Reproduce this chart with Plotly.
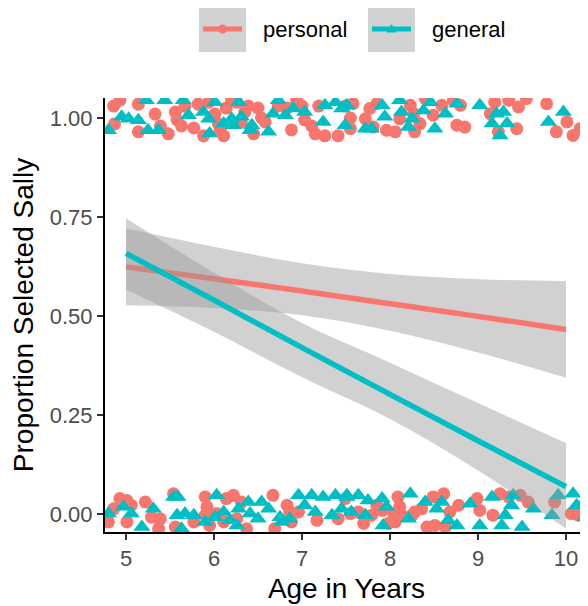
import plotly.graph_objects as go

# ---------------- data ----------------
# jittered responses (1 = selected Sally), personal condition
personal_age = [
    4.86, 4.93, 4.87, 5.14, 5.14, 5.33, 5.39, 5.48, 5.56, 5.58, 5.63, 5.67, 5.77, 5.82, 5.88, 5.94,
    6.01, 6.05, 6.07, 6.11, 6.14, 6.20, 6.26, 6.31, 6.35, 6.39, 6.45, 6.50, 6.54, 6.58, 6.73, 6.83,
    6.88, 6.94, 7.00, 7.03, 7.11, 7.15, 7.19, 7.26, 7.41, 7.49,
    7.58, 7.55, 7.55, 7.72, 7.77, 7.85, 7.81, 7.96, 8.06, 8.11, 8.23, 8.27, 8.28, 8.34, 8.40, 8.49,
    8.59, 8.72, 8.80, 8.76, 8.85, 9.14, 9.19, 9.23, 9.35, 9.44, 9.46, 9.55, 9.78, 9.89, 10.01, 10.08,
    10.16, 10.24,
    4.80, 4.86, 4.93, 5.01, 5.01, 5.06, 5.22, 5.29, 5.39, 5.37, 5.54, 5.56, 5.77, 5.90, 5.92, 5.90,
    5.95, 6.03, 6.11, 6.14, 6.22, 6.26, 6.31, 6.37, 6.67, 6.69, 6.83, 6.86, 6.88, 6.96, 7.17, 7.41,
    7.49,
    7.55, 7.64, 7.70, 7.79, 7.85, 7.91, 7.98, 8.04, 8.06, 8.09, 8.11, 8.13, 8.25, 8.28, 8.36, 8.42,
    8.49, 8.51, 8.61, 8.63, 8.68, 8.78, 8.99, 9.02, 9.17, 9.25, 9.35, 9.48, 9.57, 9.87, 10.06, 10.14,
    10.20,
]
personal_resp = [
    1.030, 1.045, 0.985, 1.035, 0.965, 1.010, 0.980, 0.960, 1.015, 0.995, 0.980, 1.030, 0.975, 1.035, 0.955, 1.040,
    1.010, 0.985, 0.970, 0.955, 1.025, 1.045, 1.040, 0.990, 1.015, 1.030, 0.960, 1.025, 1.000, 0.990, 1.030, 1.025,
    0.970, 1.045, 1.030, 0.995, 0.980, 0.960, 1.030, 0.955, 0.955, 1.030,
    1.036, 1.000, 0.973, 0.998, 1.024, 1.036, 0.977, 0.969, 0.965, 0.998, 1.032, 1.011, 0.965, 0.986, 1.049, 1.007,
    1.032, 1.045, 1.032, 0.982, 0.977, 1.011, 1.040, 0.965, 1.045, 0.973, 1.028, 1.049, 1.036, 0.965, 0.990, 0.956,
    0.973, 0.973,
    -0.020, 0.013, 0.039, 0.034, -0.020, 0.022, 0.030, -0.008, -0.012, -0.037, 0.051, -0.033, -0.020, 0.043, 0.018, -0.003,
    -0.029, 0.001, -0.020, 0.039, 0.047, -0.012, 0.030, -0.037, 0.047, -0.037, 0.022, 0.005, -0.020, 0.005, -0.016, -0.012,
    0.039,
    0.001, 0.005, -0.024, -0.003, 0.022, 0.009, -0.024, 0.001, -0.020, 0.043, 0.018, -0.003, -0.003, 0.005, 0.013, -0.033,
    0.043, -0.029, 0.051, -0.033, 0.005, 0.022, 0.039, 0.009, -0.003, 0.051, 0.043, 0.047, 0.030, 0.030, 0.001, -0.003,
    0.022,
]

# jittered responses, general condition
general_age = [
    4.80, 4.95, 5.03, 5.14, 5.23, 5.25, 5.37, 5.44, 5.65, 5.71, 5.88, 5.94, 5.95, 6.01, 6.11, 6.20,
    6.22, 6.28, 6.31, 6.41, 6.43, 6.62, 6.67, 6.73, 6.81, 6.90, 7.03, 7.24, 7.26, 7.38, 7.45, 7.49,
    7.51, 7.72, 7.79, 7.91, 7.94, 8.11, 8.13, 8.21, 8.25, 8.38, 8.46, 8.51, 8.63, 8.76, 9.02, 9.16,
    9.21, 9.29, 9.33, 9.25, 9.80, 9.97,
    4.80, 4.97, 5.06, 5.18, 5.31, 5.54, 5.59, 5.58, 5.67, 5.77, 5.63, 5.90, 6.01, 6.03, 6.11, 6.18,
    6.26, 6.28, 6.39, 6.41, 6.50, 6.54, 6.62, 6.75, 6.77, 6.86, 6.96, 7.03, 7.11, 7.15, 7.24, 7.34,
    7.38, 7.45, 7.51,
    7.51, 7.56, 7.64, 7.72, 7.75, 7.91, 7.96, 7.92, 8.23, 8.21, 8.40, 8.53, 8.59, 8.66, 8.76, 8.91,
    9.02, 9.16, 9.27, 9.31, 9.38, 9.40, 9.50, 9.63, 9.84, 9.91, 10.08, 10.12, 10.22,
]
general_resp = [
    0.969, 1.003, 0.998, 0.994, 1.045, 0.969, 0.969, 1.045, 1.045, 1.007, 1.015, 0.998, 0.961, 1.040, 0.986, 0.998,
    0.982, 1.040, 1.003, 0.969, 0.982, 0.965, 1.011, 1.045, 1.007, 1.024, 1.015, 0.990, 1.032, 1.040, 1.024, 0.982,
    1.032, 0.973, 0.973, 1.032, 1.003, 1.045, 1.015, 0.977, 0.998, 1.019, 1.040, 0.973, 1.011, 1.036, 1.032, 0.986,
    1.011, 1.015, 0.986, 0.956, 0.990, 1.015,
    0.001, 0.018, 0.001, -0.033, 0.013, 0.043, 0.043, -0.003, 0.001, -0.003, -0.037, -0.020, -0.008, 0.047, 0.005, -0.016,
    -0.029, 0.013, 0.030, 0.001, -0.012, 0.030, 0.013, -0.008, -0.020, -0.012, 0.047, 0.022, 0.047, 0.005, 0.043, -0.003,
    0.047, 0.013, 0.043,
    0.047, 0.005, 0.047, -0.003, 0.034, 0.039, 0.018, -0.029, 0.051, -0.012, 0.030, 0.013, 0.030, -0.016, -0.029, 0.026,
    -0.029, 0.043, -0.029, -0.003, 0.022, 0.047, -0.033, 0.013, -0.003, 0.047, 0.051, 0.022, -0.008,
]

# fitted curves with confidence bands
fit_age = [5, 6, 7, 8, 9, 10]
personal_fit = [0.624, 0.594, 0.563, 0.531, 0.499, 0.466]
personal_upper = [0.721, 0.675, 0.633, 0.606, 0.593, 0.588]
personal_lower = [0.527, 0.520, 0.502, 0.463, 0.408, 0.344]
general_fit = [0.658, 0.540, 0.420, 0.302, 0.185, 0.069]
general_upper = [0.747, 0.609, 0.482, 0.382, 0.280, 0.179]
general_lower = [0.567, 0.460, 0.345, 0.240, 0.110, -0.037]

y_ticks = [0, 0.25, 0.5, 0.75, 1.0]
y_tick_labels = ["0.00", "0.25", "0.50", "0.75", "1.00"]
x_ticks = [5, 6, 7, 8, 9, 10]

series_names = ["personal", "general"]

# ---------------- style ----------------
RED = "#F8766D"
TEAL = "#00BFC4"
BAND = "rgba(153,153,153,0.45)"
FONT = "Liberation Sans, Arial, sans-serif"

# the page body has an 8px margin, so the figure is 8px smaller and shifted
OFF = 8
W, H = 588 - OFF, 606 - OFF
ML, MR, MT, MB = 105 - OFF, 0, 98 - OFF, 74

fig = go.Figure()

fig.add_trace(go.Scatter(x=personal_age, y=personal_resp, mode="markers",
                         marker=dict(symbol="circle", size=13, color=RED, line=dict(width=0)),
                         showlegend=False, hoverinfo="skip"))
fig.add_trace(go.Scatter(x=general_age, y=general_resp, mode="markers",
                         marker=dict(symbol="triangle-up", size=15, color=TEAL, line=dict(width=0)),
                         showlegend=False, hoverinfo="skip"))

for fit, up, lo, col in [(personal_fit, personal_upper, personal_lower, RED),
                         (general_fit, general_upper, general_lower, TEAL)]:
    fig.add_trace(go.Scatter(x=fit_age, y=up, mode="lines", line=dict(width=0, shape="spline"),
                             showlegend=False, hoverinfo="skip"))
    fig.add_trace(go.Scatter(x=fit_age, y=lo, mode="lines", line=dict(width=0, shape="spline"),
                             fill="tonexty", fillcolor=BAND, showlegend=False, hoverinfo="skip"))
    fig.add_trace(go.Scatter(x=fit_age, y=fit, mode="lines", line=dict(width=5.5, color=col, shape="spline"),
                             showlegend=False, hoverinfo="skip"))

# ---------------- custom legend (ggplot-style keys) ----------------
pw, ph = W - ML - MR, H - MT - MB


def px(xp):
    # screen pixel -> paper x
    return (xp - OFF - ML) / pw


def py(yp):
    # screen pixel -> paper y
    return (H - MB - (yp - OFF)) / ph


shapes = []
annotations = []
legend_keys = [(199, RED, "circle"), (368, TEAL, "triangle")]
for (kx, col, sym), name in zip(legend_keys, series_names):
    shapes.append(dict(type="rect", xref="paper", yref="paper",
                       x0=px(kx), x1=px(kx + 47), y0=py(52), y1=py(5),
                       fillcolor="#D2D2D2", line=dict(width=0), layer="above"))
    shapes.append(dict(type="line", xref="paper", yref="paper",
                       x0=px(kx + 4), x1=px(kx + 43), y0=py(29), y1=py(29),
                       line=dict(color=col, width=5), layer="above"))
    if sym == "circle":
        shapes.append(dict(type="circle", xref="paper", yref="paper",
                           xsizemode="pixel", ysizemode="pixel",
                           xanchor=px(kx + 23.5), yanchor=py(29),
                           x0=-4.5, x1=4.5, y0=-4.5, y1=4.5,
                           fillcolor=col, line=dict(width=0), layer="above"))
    else:
        shapes.append(dict(type="path", xref="paper", yref="paper",
                           xsizemode="pixel", ysizemode="pixel",
                           xanchor=px(kx + 23.5), yanchor=py(29),
                           path="M -5,-3.5 L 5,-3.5 L 0,5 Z",
                           fillcolor=col, line=dict(width=0), layer="above"))
    annotations.append(dict(text=name, xref="paper", yref="paper",
                            x=px(kx + 62), y=py(29), xanchor="left", yanchor="middle",
                            showarrow=False, font=dict(family=FONT, size=22, color="black")))

fig.update_layout(
    width=W, height=H,
    margin=dict(l=ML, r=MR, t=MT, b=MB, autoexpand=False),
    plot_bgcolor="white", paper_bgcolor="white",
    showlegend=False,
    shapes=shapes, annotations=annotations,
    font=dict(family=FONT),
)

fig.update_xaxes(range=[4.761, 10.25], tickvals=x_ticks, ticktext=[str(v) for v in x_ticks],
                 showgrid=False, zeroline=False, automargin=False,
                 showline=True, linecolor="black", linewidth=2,
                 ticks="outside", ticklen=6, tickwidth=2, tickcolor="#333333",
                 tickfont=dict(family=FONT, size=22, color="#4D4D4D"),
                 title=dict(text="Age in Years", font=dict(family=FONT, size=28, color="black"), standoff=8))
fig.update_yaxes(range=[-0.0455, 1.0505], tickvals=y_ticks, ticktext=y_tick_labels,
                 showgrid=False, zeroline=False, automargin=False,
                 showline=True, linecolor="black", linewidth=2,
                 ticks="outside", ticklen=6, tickwidth=2, tickcolor="#333333",
                 tickfont=dict(family=FONT, size=22, color="#4D4D4D"),
                 title=dict(text="Proportion Selected Sally", font=dict(family=FONT, size=28, color="black"), standoff=14))

fig.write_html("out.html")
